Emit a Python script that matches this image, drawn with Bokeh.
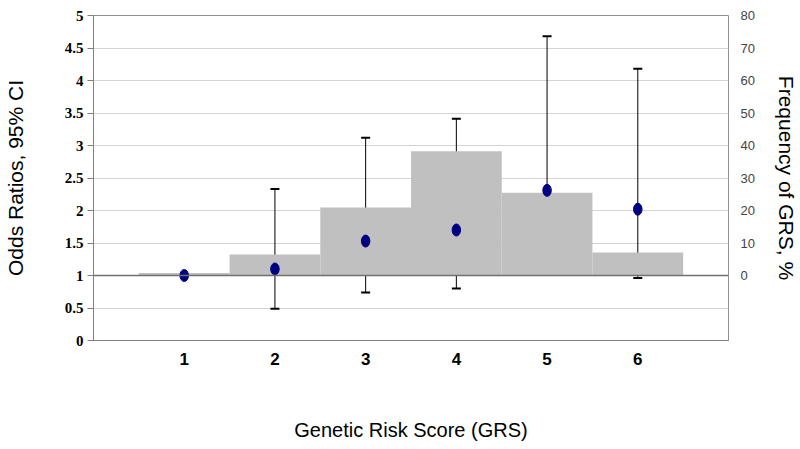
from bokeh.plotting import figure
from bokeh.models import (Range1d, LinearAxis, FixedTicker, ColumnDataSource, Whisker,
                          TeeHead, Span, CustomJSTickFormatter)
from bokeh.embed import file_html
from bokeh.resources import INLINE

grs = [1, 2, 3, 4, 5, 6]
freq_pct = [0.8, 6.5, 20.9, 38.2, 25.5, 7.1]
odds_ratio = [1.0, 1.10, 1.53, 1.70, 2.31, 2.02]
ci_low = [1.0, 0.49, 0.74, 0.80, 1.13, 0.96]
ci_high = [1.0, 2.33, 3.12, 3.41, 4.68, 4.18]
left_ticks = [0, 0.5, 1, 1.5, 2, 2.5, 3, 3.5, 4, 4.5, 5]
right_ticks = [0, 10, 20, 30, 40, 50, 60, 70, 80]

p = figure(width=800, height=449, output_backend="svg", toolbar_location=None,
           x_range=Range1d(0, 7), y_range=Range1d(0, 5),
           min_border_left=92, min_border_right=72, min_border_top=15, min_border_bottom=109)
p.extra_y_ranges = {"freq": Range1d(-20, 80)}

p.outline_line_color = "#909090"
p.background_fill_color = "white"
p.border_fill_color = "white"

p.xgrid.visible = False
p.ygrid.ticker = FixedTicker(ticks=left_ticks)
p.ygrid.grid_line_color = "#d4d4d4"

src_bar = ColumnDataSource(dict(x=grs, f=freq_pct))
p.vbar(x="x", top="f", bottom=0, width=1.0, source=src_bar, y_range_name="freq",
       fill_color="#c0c0c0", line_color=None)
p.add_layout(Span(location=1, dimension="width", line_color="#707070", line_width=1.5))

src = ColumnDataSource(dict(x=grs, y=odds_ratio, lo=ci_low, hi=ci_high))
w = Whisker(base="x", lower="lo", upper="hi", source=src, line_color="black", line_width=1,
            upper_head=TeeHead(size=9, line_color="black", line_width=2),
            lower_head=TeeHead(size=9, line_color="black", line_width=2))
p.add_layout(w)
p.ellipse(x="x", y="y", width=8.5, height=12, width_units="screen", height_units="screen",
          source=src, fill_color="#000080", line_color="#000080")

ya = p.yaxis[0]
ya.ticker = FixedTicker(ticks=left_ticks)
ya.formatter = CustomJSTickFormatter(code="return String(tick);")
ya.axis_line_color = "#808080"
ya.major_tick_line_color = "#808080"
ya.major_tick_out = 6
ya.major_tick_in = 0
ya.major_label_standoff = 4
ya.minor_tick_line_color = None
ya.major_label_text_font = "Liberation Sans Narrow"
ya.major_label_text_font_style = "bold"
ya.major_label_text_font_size = "15px"
ya.major_label_text_color = "black"
ya.axis_label = "Odds Ratios, 95% CI"
ya.axis_label_text_font = "Liberation Sans"
ya.axis_label_text_font_style = "normal"
ya.axis_label_text_font_size = "21px"
ya.axis_label_text_color = "black"
ya.axis_label_standoff = 35

ra = LinearAxis(y_range_name="freq", ticker=FixedTicker(ticks=right_ticks))
ra.axis_line_color = None
ra.major_tick_line_color = None
ra.major_tick_out = 0
ra.minor_tick_line_color = None
ra.major_label_standoff = 12
ra.major_label_text_font = "Liberation Sans"
ra.major_label_text_font_size = "13px"
ra.major_label_text_color = "#444444"
ra.axis_label = "Frequency of GRS, %"
ra.axis_label_text_font = "Liberation Sans"
ra.axis_label_text_font_style = "normal"
ra.axis_label_text_font_size = "21px"
ra.axis_label_text_color = "black"
ra.axis_label_standoff = 17
p.add_layout(ra, "right")

xa = p.xaxis[0]
xa.ticker = FixedTicker(ticks=grs)
xa.axis_line_color = "#808080"
xa.major_tick_line_color = None
xa.major_tick_out = 0
xa.minor_tick_line_color = None
xa.major_label_standoff = 12
xa.major_label_text_font = "Liberation Sans"
xa.major_label_text_font_style = "bold"
xa.major_label_text_font_size = "17px"
xa.major_label_text_color = "black"
xa.axis_label = "Genetic Risk Score (GRS)"
xa.axis_label_text_font = "Liberation Sans"
xa.axis_label_text_font_style = "normal"
xa.axis_label_text_font_size = "20px"
xa.axis_label_text_color = "black"
xa.axis_label_standoff = 51

open("out.html", "w").write(file_html(p, INLINE))
